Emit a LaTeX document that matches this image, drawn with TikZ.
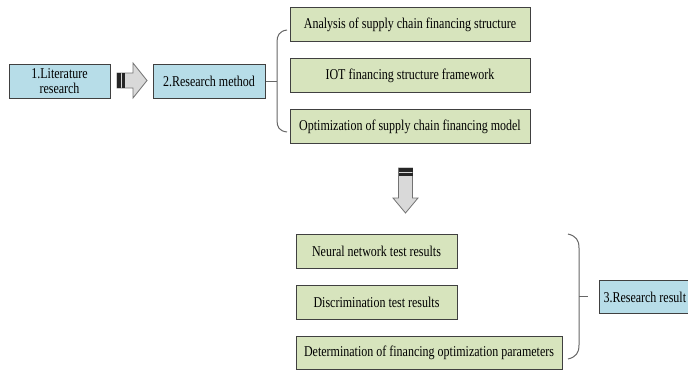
\documentclass[tikz,border=0pt]{standalone}
\usepackage{fontspec}
\setmainfont[FakeStretch=0.8]{Liberation Serif}
\definecolor{stepblue}{HTML}{B7DDE8}
\definecolor{stepgreen}{HTML}{D7E4BD}
\begin{document}
\begin{tikzpicture}[x=1pt, y=-1pt,
    box/.style={draw=black!75, line width=1pt, minimum height=34pt, inner sep=1pt,
        align=center, font=\fontsize{15}{15}\selectfont},
    bluebox/.style={box, fill=stepblue},
    greenbox/.style={box, fill=stepgreen},
    blockarrow/.style={fill=black!15, draw=black!55, line width=0.8pt, line join=miter},
    bracket/.style={draw=black!60, line width=1pt}]
    \useasboundingbox (0,0) rectangle (688,370);
        \node[bluebox, minimum width=101pt] (L1) at (59.5, 81) {1.Literature\\research};
        \node[bluebox, minimum width=112pt] (M2) at (209, 81) {2.Research method};
        \node[greenbox, minimum width=240pt] (A1) at (410, 24.5) {Analysis of supply chain financing structure};
        \node[greenbox, minimum width=240pt] (A2) at (410, 75.5) {IOT financing structure framework};
        \node[greenbox, minimum width=240pt] (A3) at (410, 126.5) {Optimization of supply chain financing model};
        \node[greenbox, minimum width=161pt] (N1) at (376.5, 251) {Neural network test results};
        \node[greenbox, minimum width=161pt] (N2) at (376.5, 302) {Discrimination test results};
        \node[greenbox, minimum width=266pt, minimum height=33pt] (N3) at (429, 353) {Determination of financing optimization parameters};
        \node[bluebox, anchor=west, text width=92pt, align=flush left, inner xsep=4pt, minimum height=33pt] (R3) at (599, 297) {3.Research result};
        % block arrows
        \draw[blockarrow] (117,73) -- (133,73) -- (133,63) -- (147,80.5) -- (133,98) -- (133,88) -- (117,88) -- cycle;
        \fill[black!85] (117,73) rectangle (120.5,88);
        \fill[black!85] (122,73) rectangle (125,88);
        \draw[blockarrow] (398.5,168) -- (412.5,168) -- (412.5,198) -- (418,198) -- (405.5,213) -- (393,198) -- (398.5,198) -- cycle;
        \fill[black!85] (398.5,168) rectangle (412.5,171.5);
        \fill[black!85] (398.5,173) rectangle (412.5,176);
        % brackets
        \coordinate (LB) at (277, 81);
        \coordinate (RB) at (579, 296);
        \draw[bracket] (M2.east)--(LB);
        \draw[bracket] (287,30) .. controls (279,31) and (277,36) .. (277,42) -- (277,120) .. controls (277,127) and (279,131) .. (287,132);
        \draw[bracket] (568,234) .. controls (576,236) and (579,240) .. (579,248) -- (579,345) .. controls (579,353) and (576,357) .. (568,359);
        \draw[bracket] (RB)--++(9,0);
    \end{tikzpicture}
\end{document}
